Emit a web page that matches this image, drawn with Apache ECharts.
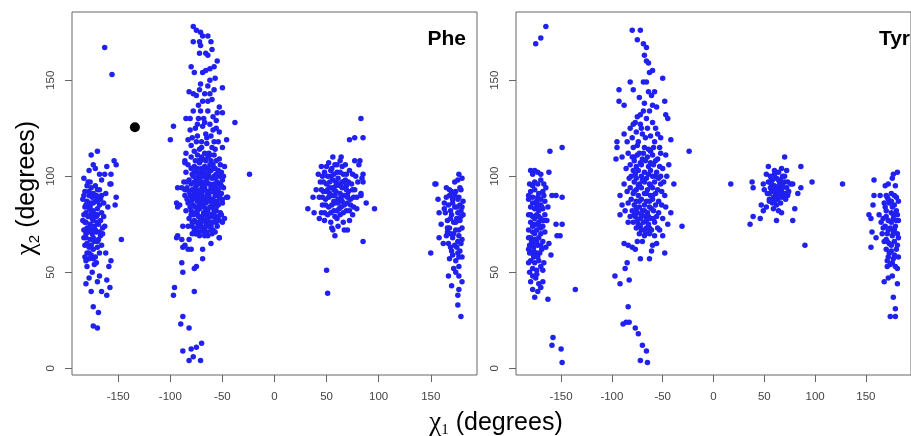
<!DOCTYPE html>
<html><head><meta charset="utf-8">
<script src="https://cdn.jsdelivr.net/npm/echarts@6/dist/echarts.min.js"></script>
<style>html,body{margin:0;padding:0;background:#fff}#c{width:911px;height:436px}</style>
</head><body><div id="c"></div>
<script>
// ---- tick labels ----
const xTicks = [-150, -100, -50, 0, 50, 100, 150];
const yTicks = [0, 50, 100, 150];
const panelNames = ['Phe', 'Tyr'];

// ---- Phe (chi1, chi2) ----
const pheA = [[-176,111],[-170,113],[-174,106],[-172,104],[-168,101],[-163,101],[-157,101],[-154,108],[-152,106],[-161,105],[-179,97],[-158,96],[-178,103],[-183,99],[-166,98],
[-180,95],[-176,94],[-172,95],[-168,93],[-182,92],[-178,90],[-174,91],[-170,89],[-166,90],[-184,88],[-180,87],[-176,86],[-172,87],[-168,85],[-164,86],[-182,84],[-178,83],[-174,82],[-170,83],[-166,81],[-183,80],[-179,79],[-175,78],[-171,79],[-167,77],[-181,76],[-177,75],[-173,74],[-169,75],[-165,73],[-183,72],[-179,71],[-175,70],[-171,71],[-167,69],[-181,68],[-177,67],[-173,66],[-169,67],[-182,64],[-178,63],[-174,62],[-170,63],[-180,60],[-176,59],[-172,58],[-168,60],[-184,77],[-176,81],[-180,73],[-174,86],[-170,76],[-178,57],[-173,54],[-180,53],[-166,64],[-164,79],[-177,97],[-170,93],[-183,68],[-178,92],[-172,80],[-176,72],[-180,65],[-174,68],[-182,58],[-170,87],[-177,84],[-181,81],
[-183,90],[-179,86],[-175,89],[-171,90],[-167,88],[-181,85],[-176,79],[-170,80],[-182,76],[-174,77],[-178,73],[-172,72],[-168,71],[-181,70],[-176,64],[-170,66],[-178,60],[-174,57],[-181,56],[-171,55],
[-181,44],[-176,40],[-161,46],[-168,48],[-166,40],[-161,38],[-158,42],[-174,32],[-169,29],[-174,22],[-170,21],[-152,89],[-153,85],[-147,67],[-157,96],[-162,60],[-157,56],[-159,53],[-175,50],[-170,45],[-178,47],[-165,70],[-163,74],[-160,84],[-162,91],
[-163,167],[-156,153]];
const pheB = [[-78,178],[-75,176],[-71,175],[-69,173],[-72,170],[-78,170],[-64,173],[-61,170],[-71,168],[-66,164],[-72,164],[-64,163],[-60,166],[-55,160],[-58,157],[-62,156],[-80,157],[-77,154],[-69,154],[-66,155],[-62,150],[-57,151],[-71,148],[-64,147],[-58,145],[-50,146],[-72,145],[-78,143],[-82,144],[-75,142],[-69,139],[-64,139],[-60,140],[-53,136],[-55,133],[-50,133],[-64,134],[-71,134],[-78,134],[-81,130],[-85,130],[-73,130],[-59,131],[-56,129],[-62,127],[-69,126],[-76,125],[-81,124],[-56,125],[-53,123],[-66,122],[-61,121],[-74,121],[-79,120],[-83,119],[-46,119],[-50,115],[-58,118],[-65,117],[-85,112],[-77,113],
[-67,143],[-73,137],[-62,143],[-68,130],[-75,118],[-70,115],[-63,112],[-57,114],[-80,116],[-54,118],
[-97,126],[-100,119],[-38,128],[-24,101],
[-80,110],[-74,111],[-69,109],[-64,110],[-58,111],[-53,109],[-86,108],
[-83,106],[-77,105],[-72,107],[-67,105],[-62,106],[-57,104],[-52,106],[-48,105],
[-85,102],[-79,101],[-75,103],[-70,102],[-66,101],[-61,103],[-56,101],[-51,102],
[-82,98],[-77,97],[-73,99],[-69,97],[-65,98],[-60,99],[-55,97],[-50,98],[-87,97],
[-84,94],[-79,93],[-75,95],[-71,93],[-67,94],[-63,92],[-58,94],[-54,93],[-49,94],
[-81,90],[-77,89],[-73,91],[-69,89],[-65,90],[-61,88],[-57,90],[-53,89],[-86,90],
[-83,86],[-78,85],[-74,87],[-70,85],[-66,86],[-62,84],[-58,86],[-54,85],[-50,86],
[-80,82],[-76,81],[-72,83],[-68,81],[-64,82],[-60,80],[-56,82],[-52,81],
[-82,78],[-77,77],[-73,79],[-69,77],[-65,78],[-61,76],[-57,78],[-53,77],
[-79,74],[-75,73],[-71,75],[-67,73],[-63,74],[-59,72],[-55,74],
[-76,70],[-72,69],[-68,71],[-64,69],[-60,70],
[-71,96],[-63,100],[-67,88],[-74,84],[-60,92],[-66,76],[-70,104],[-62,96],[-75,99],[-58,83],[-68,93],[-64,87],[-72,79],[-56,95],[-77,91],[-61,79],[-69,100],[-65,71],[-73,108],[-59,106],
[-76,108],[-71,108],[-66,108],[-61,108],[-56,108],
[-80,104],[-74,104],[-68,103],[-64,104],[-59,104],[-54,103],
[-78,100],[-73,101],[-67,100],[-58,100],[-53,100],
[-80,96],[-74,96],[-66,96],[-58,96],[-52,96],
[-82,92],[-75,92],[-70,91],[-65,92],[-56,92],[-51,91],
[-79,88],[-75,88],[-71,87],[-63,88],[-59,88],[-55,87],
[-81,84],[-76,84],[-72,85],[-68,84],[-60,84],[-56,84],
[-78,80],[-74,80],[-70,79],[-66,80],[-62,80],[-58,80],[-54,79],
[-79,76],[-75,76],[-71,77],[-63,76],[-59,76],
[-77,72],[-73,71],[-69,72],[-61,72],[-57,71],
[-70,110],[-62,111],[-77,102],[-63,102],[-72,98],[-57,99],[-76,94],[-69,95],[-61,94],[-73,89],[-63,90],[-55,91],[-80,87],[-68,87],[-60,86],[-74,82],[-66,83],[-58,82],[-80,80],[-64,78],[-56,76],[-73,75],[-66,74],[-61,74],[-70,73],[-79,70],[-67,69],[-84,88],[-85,82],[-83,74],[-50,88],[-51,95],[-49,100],[-84,97],[-86,93],[-67,112],[-72,114],[-60,115],[-65,120],[-70,118],[-59,124],[-67,128],[-74,127],
[-86,107],[-89,94],[-94,86],[-93,84],[-88,74],[-93,69],[-82,67],[-88,63],[-91,85],[-93,94],[-46,89],[-48,78],[-50,76],[-45,89],[-51,80],[-53,68],[-61,65],[-94,68],[-89,67],[-86,64],[-83,62],[-80,62],[-75,70],[-66,70],[-69,62],[-53,68],[-69,57],[-89,55],[-88,50],[-77,52],[-75,53],[-96,42],[-97,38],[-77,40],[-88,27],[-90,23],[-82,21],[-70,13],[-75,11],[-80,10],[-88,9],[-82,4],[-78,6],[-71,4]];
const pheC = [[45,105],[52,107],[58,106],[63,108],[68,106],[56,110],[64,110],
[42,101],[48,102],[54,100],[60,102],[66,101],[72,103],[78,100],
[44,97],[50,96],[56,98],[62,96],[68,98],[74,96],[80,97],
[40,93],[47,92],[53,94],[59,92],[65,94],[71,92],[77,93],[83,91],
[43,89],[49,88],[55,90],[61,88],[67,90],[73,88],[79,89],
[46,85],[52,84],[58,86],[64,84],[70,86],[76,84],
[45,81],[51,80],[57,82],[63,80],[69,82],[75,80],
[48,77],[54,76],[60,78],[66,76],[72,77],
[55,73],[61,74],[67,72],
[59,95],[63,91],[57,87],[61,99],[65,87],[53,91],[69,95],[62,83],[58,79],[56,94],[66,97],[50,92],[70,89],[60,106],[54,103],
[47,97],[53,97],[59,97],[65,97],[71,97],[45,93],[51,93],[57,93],[63,95],[69,93],[75,93],[46,89],[52,89],[58,90],[64,89],[70,90],[76,89],[49,85],[55,85],[61,86],[67,85],[73,85],[48,81],[54,81],[60,82],[66,81],[72,82],[51,100],[57,101],[63,102],[69,101],[75,101],[55,104],[65,105],
[37,89],[46,100],[50,105],[77,108],[82,108],[81,106],[85,101],[85,97],[84,99],[32,83],[38,81],[43,78],[56,72],[58,69],[70,72],[85,66],[96,83],[83,90],[79,83],[50,51],[51,39],[83,130],[77,120],[72,119],[85,120],[88,86]];
const pheD = [[155,96],[165,94],[177,101],[176,98],[173,97],[168,90],[180,99],[178,94],
[168,93],[174,92],[179,93],[165,89],[171,88],[177,89],[181,87],[167,85],[173,84],[178,85],[164,81],[170,80],[176,81],[181,80],[166,77],[172,76],[178,77],[168,73],[174,72],[180,73],[165,69],[171,68],[177,69],[167,65],[173,64],[179,65],[170,61],[176,60],[168,57],[174,56],[180,58],[172,52],[177,53],[171,86],[175,78],[169,70],[176,66],[173,90],[179,82],[166,73],[178,61],[174,50],[163,86],
[170,92],[176,88],[169,82],[175,84],[180,84],[169,78],[174,76],[179,79],[166,71],[172,70],[177,72],[169,63],[175,63],[180,67],[171,59],[177,58],
[154,96],[157,88],[158,81],[163,83],[158,68],[150,60],[170,43],[177,41],[176,38],[179,27],[177,48],[160,75],[162,65],[167,48],[180,45],[176,33]];
const pheMarker = [[-134,125.5]];

// ---- Tyr (chi1, chi2) ----
const tyrA = [[-175,169],[-170,172],[-165,178],[-161,113],[-149,115],
[-180,103],[-176,103],[-173,102],[-170,101],[-178,101],[-176,97],[-173,96],[-181,96],[-165,94],[-162,102],[-159,90],[-155,90],[-149,89],[-170,98],[-167,96],
[-180,92],[-176,93],[-172,91],[-168,92],[-182,88],[-178,89],[-174,87],[-170,88],[-166,87],[-180,84],[-176,83],[-172,85],[-168,83],[-182,80],[-178,79],[-174,80],[-170,78],[-166,80],[-180,76],[-176,75],[-172,76],[-168,74],[-182,72],[-178,71],[-174,72],[-170,70],[-166,71],[-180,68],[-176,67],[-172,68],[-168,66],[-181,64],[-177,63],[-173,64],[-169,62],[-179,60],[-175,59],[-171,60],[-180,56],[-176,55],[-172,56],[-178,52],[-174,51],[-170,53],[-175,86],[-171,74],[-177,58],[-167,77],[-173,89],[-179,66],[-169,84],[-178,95],[-172,82],[-176,70],[-182,62],[-174,60],
[-182,90],[-178,86],[-174,84],[-170,85],[-167,90],[-180,80],[-176,78],[-172,79],[-168,77],[-178,74],[-174,75],[-170,73],[-182,68],[-178,65],[-174,66],[-170,64],[-181,60],[-177,61],[-173,58],[-178,48],[-174,49],[-182,55],
[-181,50],[-180,45],[-178,41],[-176,37],[-173,40],[-170,42],[-168,45],[-163,36],[-160,59],[-155,75],[-149,75],[-154,69],[-151,69],[-162,65],[-165,63],[-167,55],[-168,51],[-175,47],[-172,44],[-163,84],[-164,77],
[-158,16],[-159,12],[-150,10],[-149,3],[-136,41]];
const tyrB = [[-80,176],[-72,176],[-75,171],[-69,169],[-66,167],[-68,163],[-66,160],[-64,159],[-60,155],[-63,154],[-69,149],[-66,149],[-58,144],[-61,142],[-50,151],[-93,145],[-82,149],[-79,145],[-93,139],[-88,137],[-48,139],[-47,132],[-45,130],[-56,136],[-63,134],[-69,134],[-72,132],[-75,131],[-79,127],[-82,125],[-88,122],[-95,118],[-96,109],[-95,115],[-24,113],[-42,119],[-52,120],[-55,122],[-53,115],[-47,111],[-44,106],[-39,96],
[-85,118],[-80,120],[-75,116],[-70,122],[-65,125],[-60,128],[-58,118],[-62,113],[-68,115],[-73,112],[-78,110],[-84,112],[-90,110],[-66,130],[-72,127],[-76,123],
[-80,110],[-75,111],[-70,109],[-65,110],[-60,111],[-55,109],
[-78,108],[-72,107],[-67,108],[-62,107],[-57,108],
[-82,106],[-76,105],[-71,106],[-64,105],[-59,106],[-53,105],
[-79,103],[-74,103],[-68,102],[-62,103],[-56,102],
[-81,100],[-76,99],[-71,100],[-66,99],[-60,100],[-54,99],
[-78,97],[-73,96],[-68,97],[-63,96],[-58,97],[-52,96],
[-82,94],[-76,93],[-71,94],[-65,93],[-60,94],[-55,93],
[-79,91],[-74,90],[-68,91],[-62,90],[-57,91],
[-81,88],[-76,87],[-71,88],[-66,87],[-60,88],[-54,87],
[-78,85],[-73,84],[-68,85],[-63,84],[-57,85],
[-80,82],[-75,81],[-70,82],[-65,81],[-59,82],[-54,81],
[-77,79],[-72,78],[-67,79],[-62,78],[-56,79],
[-79,76],[-74,75],[-69,76],[-64,75],[-58,76],
[-76,73],[-71,72],[-66,73],[-61,72],[-55,73],
[-73,70],[-68,69],[-63,70],[-58,69],
[-77,101],[-64,101],[-70,98],[-57,100],[-74,95],[-62,95],[-78,92],[-66,91],[-60,90],[-73,87],[-63,87],[-76,83],[-68,82],[-61,83],[-78,80],[-71,80],[-64,79],[-59,78],[-75,77],[-66,77],[-72,74],[-63,73],[-68,72],[-83,99],[-84,86],[-82,79],[-51,92],[-52,100],[-69,112],[-64,114],[-59,115],[-74,118],[-79,115],[-67,120],[-62,121],[-71,125],[-57,125],[-77,128],[-68,138],[-60,137],[-73,141],[-64,144],
[-86,104],[-88,96],[-85,92],[-92,90],[-90,85],[-92,80],[-87,82],[-84,76],[-50,104],[-49,97],[-48,90],[-51,85],[-50,78],[-47,84],[-52,112],[-46,100],
[-88,65],[-84,64],[-80,63],[-77,62],[-72,57],[-63,57],[-67,70],[-63,71],[-60,64],[-48,60],[-50,69],[-45,75],[-42,81],[-31,74],[-85,55],[-87,52],[-97,48],[-92,44],[-83,46],[-84,32],[-89,23],[-86,24],[-83,24],[-77,21],[-74,18],[-70,12],[-66,9],[-72,4],[-65,3],[-70,66],[-75,66],[-56,65],[-61,61],[-53,72]];
const tyrC = [[38,97],[39,94],[49,96],[52,101],[54,105],[57,99],[60,103],[65,97],[67,104],[70,110],[72,103],[73,91],[78,96],[83,91],[86,105],[17,96],[97,97],[127,96],[90,64],[36,75],[39,79],[46,78],[49,82],[47,85],[52,84],[55,87],[59,83],[62,77],[64,82],[67,81],[68,90],[73,90],[78,77],[80,83],[86,94],
[54,97],[58,98],[62,99],[66,98],[70,97],[56,94],[60,95],[64,94],[68,95],[72,94],[53,91],[57,92],[61,91],[65,92],[69,91],[74,92],[55,88],[59,89],[63,88],[67,89],[71,88],[58,86],[62,85],[66,86],[60,101],[64,102],[68,100],[50,93],[76,96],[62,93],[66,90],
[56,100],[64,98],[70,100],[59,93],[67,93],[55,91],[63,90],[71,91],[60,87],[57,96],[65,95],[73,97]];
const tyrD = [[158,98],[172,96],[177,101],[176,99],[169,95],[164,90],[171,89],[179,95],[158,90],[155,78],[155,63],[156,71],[160,68],[163,80],[168,45],[171,53],[172,47],[177,37],[179,31],[174,27],[179,27],[181,102],[153,80],[157,85],
[170,90],[175,91],[180,89],[168,86],[173,86],[178,85],[182,87],[170,82],[175,81],[180,82],[167,78],[172,77],[177,78],[182,77],[169,74],[174,73],[179,74],[171,70],[176,69],[181,70],[168,66],[173,65],[178,66],[170,62],[175,61],[180,62],[172,58],[177,57],[182,58],[174,54],[179,53],[176,48],[181,44],[165,76],[166,70],[175,87],[178,72],[171,66],[177,80],
[172,88],[178,90],[169,84],[176,84],[181,80],[170,79],[175,76],[180,77],[167,73],[172,72],[177,71],[182,68],[170,67],[175,64],[181,64],[173,60],[178,59],[176,55],[181,52],[171,56]];

const pheData = pheA.concat(pheB, pheC, pheD);
const tyrData = tyrA.concat(tyrB, tyrC, tyrD);

const BLUE = '#2020f0';
const FONT = 'Liberation Sans, Arial, Helvetica, sans-serif';
const grids = [
  {left: 72, top: 12, width: 405, height: 363},
  {left: 516, top: 12, width: 405, height: 363}
];
function xAx(i) {
  return {gridIndex: i, type: 'value', min: -194.4, max: 194.4,
    splitLine: {show: false},
    axisLine: {show: false, onZero: false},
    axisTick: {show: true, customValues: xTicks, length: 7, lineStyle: {color: '#666', width: 1}},
    axisLabel: {customValues: xTicks, margin: 16, fontSize: 11.5, color: '#444', fontFamily: FONT}};
}
function yAx(i) {
  return {gridIndex: i, type: 'value', min: -3.5, max: 185.5,
    splitLine: {show: false},
    axisLine: {show: false, onZero: false},
    axisTick: {show: true, customValues: yTicks, length: 7, lineStyle: {color: '#666', width: 1}},
    axisLabel: {customValues: yTicks, margin: 15, rotate: 90, fontSize: 11.5, color: '#444', fontFamily: FONT}};
}
const option = {
  animation: false,
  backgroundColor: '#fff',
  grid: grids.map(g => Object.assign({show: true, borderColor: '#666', borderWidth: 1, backgroundColor: 'transparent'}, g)),
  xAxis: [xAx(0), xAx(1)],
  yAxis: [yAx(0), yAx(1)],
  series: [
    {type: 'scatter', xAxisIndex: 0, yAxisIndex: 0, data: pheData, symbolSize: 5.5, itemStyle: {color: BLUE, opacity: 1}},
    {type: 'scatter', xAxisIndex: 0, yAxisIndex: 0, data: pheMarker, symbolSize: 10, itemStyle: {color: '#000', opacity: 1}},
    {type: 'scatter', xAxisIndex: 1, yAxisIndex: 1, data: tyrData, symbolSize: 5.5, itemStyle: {color: BLUE, opacity: 1}}
  ],
  graphic: [
    {type: 'text', x: 466, y: 39, style: {text: panelNames[0], font: 'bold 21px ' + FONT, fill: '#000', align: 'right', verticalAlign: 'middle'}},
    {type: 'text', x: 910, y: 39, style: {text: panelNames[1], font: 'bold 21px ' + FONT, fill: '#000', align: 'right', verticalAlign: 'middle'}},
    {type: 'text', x: 496, y: 423, style: {
      text: '{c|χ}{s|1}{t| (degrees)}', align: 'center', verticalAlign: 'middle',
      rich: {
        c: {fontSize: 27, fontFamily: 'Liberation Serif, DejaVu Serif, serif', lineHeight: 30, verticalAlign: 'middle', fill: '#000'},
        s: {fontSize: 15, fontFamily: 'Liberation Serif, DejaVu Serif, serif', lineHeight: 16, verticalAlign: 'bottom', fill: '#000'},
        t: {fontSize: 25, fontFamily: FONT, lineHeight: 30, verticalAlign: 'middle', fill: '#000'}
      }}},
    {type: 'text', x: 27, y: 188, rotation: Math.PI / 2, style: {
      text: '{c|χ}{s|2}{t| (degrees)}', align: 'center', verticalAlign: 'middle',
      rich: {
        c: {fontSize: 27, fontFamily: 'Liberation Serif, DejaVu Serif, serif', lineHeight: 30, verticalAlign: 'middle', fill: '#000'},
        s: {fontSize: 15, fontFamily: FONT, lineHeight: 16, verticalAlign: 'bottom', fill: '#000'},
        t: {fontSize: 25, fontFamily: FONT, lineHeight: 30, verticalAlign: 'middle', fill: '#000'}
      }}}
  ]
};
const chart = echarts.init(document.getElementById('c'), null, {renderer: 'canvas'});
chart.setOption(option);
</script>
</body></html>
